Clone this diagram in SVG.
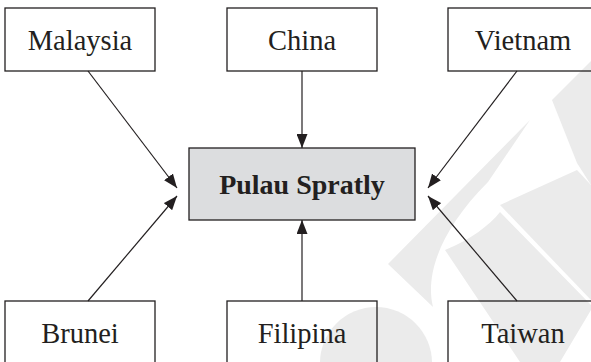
<svg xmlns="http://www.w3.org/2000/svg" width="591" height="362" viewBox="0 0 591 362">
<defs>
<style>
.box{fill:none;stroke:#231f20;stroke-width:1.3}
.hub{fill:#dcdddf;stroke:#231f20;stroke-width:1.3}
.lbl{font-family:"Liberation Serif",serif;font-size:28.5px;fill:#231f20;text-anchor:middle}
.hubl{font-family:"Liberation Serif",serif;font-size:28px;font-weight:bold;fill:#231f20;text-anchor:middle}
.conn{stroke:#231f20;stroke-width:1.2;fill:none;marker-end:url(#ah)}
.wm{fill:#ebebeb}
</style>
<marker id="ah" viewBox="0 0 14 11" refX="14" refY="5.5" markerWidth="14" markerHeight="11" markerUnits="userSpaceOnUse" orient="auto">
<path d="M0,0 L14,5.5 L0,11 Z" fill="#231f20"/>
</marker>
</defs>
<rect width="591" height="362" fill="#ffffff"/>
<g id="watermark">
<path class="wm" d="M585,67 L591,61 L591,185 L577,163 L552,100 Z"/>
<path class="wm" d="M530,120 L388,264 L433,307 C425,275 440,230 488,182 Z"/>
<path class="wm" d="M577,170 L591,185 L591,300 L500,205 Z"/>
<path class="wm" d="M445,250 C470,240 490,225 500,212 L591,305 L591,310 L560,362 L520,362 Z"/>
<circle class="wm" cx="376" cy="363" r="56"/>
</g>
<g id="connectors">
<line class="conn" x1="88" y1="71" x2="177" y2="188"/>
<line class="conn" x1="302" y1="71" x2="302" y2="148"/>
<line class="conn" x1="517" y1="71" x2="428" y2="188"/>
<line class="conn" x1="88" y1="301" x2="177" y2="196"/>
<line class="conn" x1="302" y1="301" x2="302" y2="220"/>
<line class="conn" x1="517" y1="301" x2="428" y2="196"/>
</g>
<g id="malaysia"><rect class="box" x="5" y="8" width="150" height="63"/><text class="lbl" x="80" y="49.5">Malaysia</text></g>
<g id="china"><rect class="box" x="227" y="8" width="150" height="63"/><text class="lbl" x="302" y="49.5">China</text></g>
<g id="vietnam"><rect class="box" x="448" y="8" width="150" height="63"/><text class="lbl" x="523" y="49.5">Vietnam</text></g>
<g id="pulau-spratly"><rect class="hub" x="189" y="148" width="226" height="72"/><text class="hubl" x="302" y="193.5">Pulau Spratly</text></g>
<g id="brunei"><rect class="box" x="5" y="301" width="150" height="70"/><text class="lbl" x="80" y="343">Brunei</text></g>
<g id="filipina"><rect class="box" x="227" y="301" width="150" height="70"/><text class="lbl" x="302" y="343">Filipina</text></g>
<g id="taiwan"><rect class="box" x="448" y="301" width="150" height="70"/><text class="lbl" x="523" y="343">Taiwan</text></g>
</svg>
